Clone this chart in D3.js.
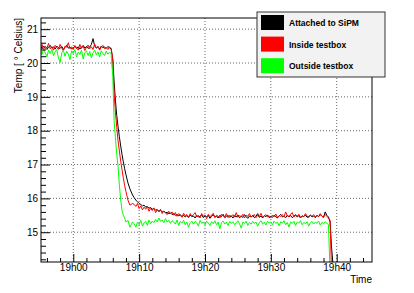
<!DOCTYPE html>
<meta charset="utf-8">
<head>
<style>
  body { margin: 0; background: #fff; }
  text { font-family: "Liberation Sans", Arial, sans-serif; fill: #000; }
  .grid line { stroke: #000; stroke-width: 0.8px; stroke-dasharray: 1,2; opacity: 0.75; }
  .leg text { font-weight: bold; font-size: 8.5px; }
</style>
</head>
<body>
<div id="content"></div>
<script src="https://d3js.org/d3.v7.min.js"></script>
<script>

// sample times, minutes after 19h00
var minutes = [
  -4.9,-4.75,-4.5,-4.25,-4,-3.75,-3.5,-3.25,-3,-2.75,
  -2.5,-2.25,-2,-1.75,-1.5,-1.25,-1,-0.75,-0.5,-0.25,
  0,0.25,0.5,0.75,1,1.25,1.5,1.75,2,2.25,
  2.5,2.75,3,3.25,3.5,3.75,4,4.25,4.5,4.75,
  5,5.25,5.5,5.75,
  6.0,6.2,6.4,6.6,6.8,7.0,7.2,7.4,7.6,7.8,8.0,8.3,8.6,9.0,
  9.25,9.5,9.75,10,10.25,10.5,10.75,11,11.25,11.5,11.75,12,
  12.25,12.5,12.75,13,13.25,13.5,13.75,14,14.25,14.5,14.75,15,
  15.25,15.5,15.75,16,16.25,16.5,16.75,17,17.25,17.5,17.75,18,
  18.25,18.5,18.75,19,19.25,19.5,19.75,20,20.25,20.5,20.75,21,
  21.25,21.5,21.75,22,22.25,22.5,22.75,23,23.25,23.5,23.75,24,
  24.25,24.5,24.75,25,25.25,25.5,25.75,26,26.25,26.5,26.75,27,
  27.25,27.5,27.75,28,28.25,28.5,28.75,29,29.25,29.5,29.75,30,
  30.25,30.5,30.75,31,31.25,31.5,31.75,32,32.25,32.5,32.75,33,
  33.25,33.5,33.75,34,34.25,34.5,34.75,35,35.25,35.5,35.75,36,
  36.25,36.5,36.75,37,37.25,37.5,37.75,38,38.25,38.5,38.75,
  39.0,39.2,39.5];

var sipm = [
  20.48,20.42,20.50,20.45,20.40,20.47,20.52,20.44,20.48,20.41,
  20.50,20.45,20.43,20.49,20.40,20.46,20.52,20.44,20.47,20.42,
  20.45,20.50,20.43,20.48,20.41,20.47,20.52,20.44,20.49,20.43,
  20.47,20.55,20.72,20.50,20.44,20.48,20.42,20.50,20.45,20.47,
  20.43,20.49,20.45,20.42,
  20.10,19.45,18.90,18.45,18.12,17.82,17.55,17.30,17.08,16.88,16.70,16.46,16.28,16.10,
  16.02,15.95,15.90,15.85,15.82,15.78,15.80,15.74,15.76,15.71,15.73,15.68,
  15.70,15.65,15.67,15.62,15.64,15.60,15.62,15.57,15.59,15.55,15.57,15.52,
  15.55,15.50,15.53,15.48,15.52,15.46,15.50,15.45,15.49,15.44,15.51,15.46,
  15.48,15.42,15.50,15.45,15.47,15.52,15.43,15.48,15.45,15.50,15.41,15.47,
  15.52,15.44,15.48,15.42,15.50,15.46,15.53,15.43,15.47,15.50,15.44,15.48,
  15.42,15.49,15.45,15.51,15.43,15.47,15.44,15.52,15.46,15.41,15.48,15.45,
  15.50,15.43,15.47,15.55,15.44,15.48,15.42,15.49,15.46,15.51,15.43,15.47,
  15.44,15.50,15.46,15.42,15.48,15.53,15.45,15.47,15.43,15.50,15.46,15.49,
  15.43,15.47,15.52,15.45,15.49,15.42,15.48,15.46,15.51,15.44,15.47,15.50,
  15.45,15.48,15.43,15.50,15.46,15.52,15.47,15.44,15.60,15.50,15.45,
  15.30,14.60,13.90];

var inside = [
  20.45,20.55,20.40,20.50,20.44,20.58,20.42,20.48,20.38,20.52,
  20.46,20.40,20.55,20.44,20.36,20.50,20.47,20.60,20.42,20.48,
  20.40,20.52,20.45,20.38,20.55,20.43,20.50,20.37,20.46,20.53,
  20.42,20.48,20.40,20.56,20.44,20.50,20.38,20.47,20.52,20.42,
  20.46,20.40,20.48,20.43,
  20.10,19.10,18.55,18.10,17.70,17.40,17.10,16.85,16.60,16.38,16.20,15.95,15.80,15.85,
  15.82,15.76,15.85,15.70,15.78,15.66,15.74,15.68,15.76,15.62,15.70,15.64,
  15.72,15.58,15.66,15.60,15.68,15.55,15.63,15.58,15.52,15.62,15.55,15.60,
  15.50,15.58,15.47,15.55,15.50,15.44,15.56,15.48,15.52,15.43,15.55,15.47,
  15.52,15.58,15.45,15.50,15.42,15.55,15.47,15.51,15.40,15.53,15.46,15.50,
  15.56,15.44,15.50,15.47,15.42,15.53,15.48,15.45,15.55,15.43,15.50,15.47,
  15.52,15.45,15.58,15.44,15.49,15.46,15.53,15.42,15.50,15.47,15.55,15.45,
  15.48,15.52,15.43,15.50,15.46,15.56,15.44,15.49,15.52,15.45,15.48,15.43,
  15.51,15.46,15.54,15.44,15.49,15.47,15.52,15.45,15.60,15.48,15.46,15.53,
  15.58,15.45,15.50,15.47,15.53,15.44,15.49,15.46,15.55,15.48,15.43,15.51,
  15.47,15.52,15.45,15.50,15.46,15.55,15.48,15.44,15.52,15.47,15.42,
  15.35,13.90,13.50];

var outside = [
  20.35,20.25,20.42,20.30,20.18,20.38,20.28,20.40,20.22,20.33,
  20.40,20.15,20.02,20.30,20.38,20.20,20.35,20.26,20.10,20.36,
  20.28,20.40,20.18,20.32,20.25,20.38,20.12,20.30,20.36,20.22,
  20.34,20.15,20.30,20.38,20.24,20.33,20.18,20.36,20.28,20.22,
  20.35,20.26,20.32,20.28,
  19.60,18.30,17.80,17.30,16.95,16.40,15.95,15.65,15.50,15.42,15.30,15.35,15.15,15.30,
  15.25,15.15,15.30,15.22,15.35,15.18,15.28,15.32,15.20,15.36,15.25,15.33,
  15.28,15.38,15.30,15.42,15.32,15.36,15.28,15.40,15.30,15.35,15.26,15.34,
  15.30,15.24,15.36,15.20,15.32,15.27,15.35,15.22,15.30,15.15,15.28,15.33,
  15.24,15.32,15.28,15.18,15.35,15.26,15.30,15.22,15.33,15.27,15.20,15.31,
  15.25,15.34,15.22,15.30,15.10,15.28,15.33,15.24,15.30,15.20,15.32,15.26,
  15.31,15.22,15.28,15.34,15.25,15.12,15.30,15.26,15.33,15.20,15.29,15.24,
  15.32,15.26,15.30,15.18,15.28,15.34,15.24,15.30,15.21,15.32,15.27,15.30,
  15.22,15.33,15.26,15.30,15.19,15.31,15.27,15.34,15.22,15.29,15.15,15.30,
  15.26,15.32,15.20,15.30,15.27,15.34,15.22,15.29,15.25,15.31,15.18,15.28,
  15.32,15.24,15.30,15.26,15.33,15.21,15.29,15.25,15.31,15.27,15.22,
  13.80,13.50,13.40];

var seriesNames = ["Attached to SiPM", "Inside testbox", "Outside testbox"];
var seriesColors = ["#000000", "#ff0000", "#00ff00"];
var seriesValues = [sipm, inside, outside];

var xTicks = [0, 10, 20, 30, 40];
var yTicks = [15, 16, 17, 18, 19, 20, 21];

var width = 414, height = 293;
var margin = {top: 18, right: 42, bottom: 31, left: 41};

var x = d3.scaleLinear().domain([-4.9, 45.36]).range([margin.left, width - margin.right]);
var y = d3.scaleLinear().domain([14.12, 21.33]).range([height - margin.bottom, margin.top]);

var svg = d3.select("#content").append("svg")
    .attr("width", width)
    .attr("height", height);

svg.append("clipPath").attr("id", "frame")
  .append("rect")
    .attr("x", margin.left).attr("y", margin.top)
    .attr("width", width - margin.left - margin.right)
    .attr("height", height - margin.top - margin.bottom);

// grid
var grid = svg.append("g").attr("class", "grid");
grid.selectAll("line.gx").data(xTicks).enter().append("line")
    .attr("x1", function(d) { return x(d); }).attr("x2", function(d) { return x(d); })
    .attr("y1", y.range()[0]).attr("y2", y.range()[1]);
grid.selectAll("line.gy").data(yTicks).enter().append("line")
    .attr("y1", function(d) { return y(d); }).attr("y2", function(d) { return y(d); })
    .attr("x1", x.range()[0]).attr("x2", x.range()[1]);

// curves
var line = d3.line()
    .x(function(d, i) { return x(minutes[i]); })
    .y(function(d) { return y(d); });

svg.append("g").attr("clip-path", "url(#frame)")
  .selectAll("path").data(seriesValues).enter().append("path")
    .attr("fill", "none")
    .attr("stroke", function(d, i) { return seriesColors[i]; })
    .attr("stroke-width", 1)
    .attr("d", line);

// axes (ROOT style, ticks inside)
var xAxis = d3.axisBottom(x).tickValues(xTicks).tickSize(-8)
    .tickFormat(function(d) { return "19h" + d3.format("02")(d); });
var gx = svg.append("g").attr("transform", "translate(0," + y.range()[0] + ")").call(xAxis);
gx.select(".domain").remove();
gx.selectAll("text").attr("font-size", 10).attr("font-family", null).attr("dy", "0.32em").attr("y", 6);
svg.append("g").attr("transform", "translate(0," + y.range()[0] + ")")
  .call(d3.axisBottom(x).tickValues(d3.range(-4, 46, 2).filter(function(d) { return d % 10 !== 0; }))
    .tickSize(-4).tickFormat(""))
  .select(".domain").remove();

var yAxis = d3.axisLeft(y).tickValues(yTicks).tickSize(-9);
var gy = svg.append("g").attr("transform", "translate(" + x.range()[0] + ",0)").call(yAxis);
gy.select(".domain").remove();
gy.selectAll("text").attr("font-size", 10).attr("font-family", null).attr("x", -3);
svg.append("g").attr("transform", "translate(" + x.range()[0] + ",0)")
  .call(d3.axisLeft(y).tickValues(d3.range(14.2, 21.3, 0.2).filter(function(d) { return Math.abs(d - Math.round(d)) > 0.01; }))
    .tickSize(-5).tickFormat(""))
  .select(".domain").remove();

// frame
svg.append("rect")
    .attr("x", margin.left).attr("y", margin.top)
    .attr("width", width - margin.left - margin.right)
    .attr("height", height - margin.top - margin.bottom)
    .attr("fill", "none").attr("stroke", "#000").attr("stroke-width", 1);

// titles
svg.append("text")
    .attr("transform", "translate(22," + margin.top + ") rotate(-90)")
    .attr("text-anchor", "end")
    .attr("font-size", 10)
    .text("Temp [ ° Celsius]");
svg.append("text")
    .attr("x", width - margin.right).attr("y", 283)
    .attr("text-anchor", "end")
    .attr("font-size", 10)
    .text("Time");

// legend
var leg = svg.append("g").attr("class", "leg");
leg.append("rect")
    .attr("x", 257).attr("y", 12).attr("width", 128).attr("height", 65)
    .attr("fill", "#f2f2f2").attr("stroke", "#333").attr("stroke-width", 1);
var entry = leg.selectAll("g").data(seriesNames).enter().append("g")
    .attr("transform", function(d, i) { return "translate(261," + (15 + i * 21.6) + ")"; });
entry.append("rect")
    .attr("width", 23).attr("height", 15)
    .attr("fill", function(d, i) { return seriesColors[i]; });
entry.append("text")
    .attr("x", 28).attr("y", 8).attr("dy", "0.35em")
    .text(function(d) { return d; });

</script>
</body>
</html>
